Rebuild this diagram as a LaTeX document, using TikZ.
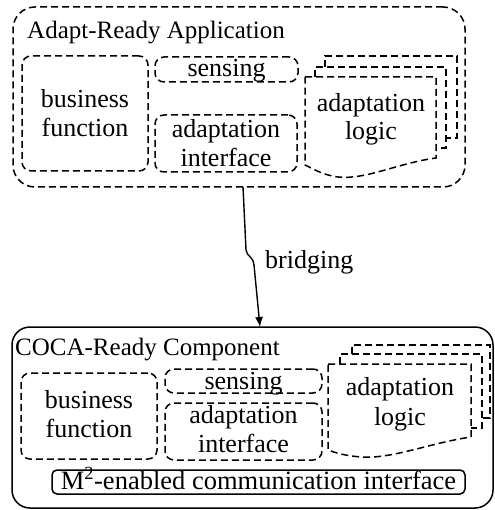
\documentclass[tikz,border=0pt]{standalone}
\usepackage{fontspec}
\setmainfont{Liberation Serif}
\usetikzlibrary{arrows.meta}
\begin{document}
\begin{tikzpicture}[x=1pt,y=-1pt,
  txt/.style={font=\fontsize{26}{28}\selectfont, inner sep=0pt, anchor=base},
  head/.style={font=\fontsize{25}{28}\selectfont, inner sep=0pt, anchor=base west},
  dsh/.style={dash pattern=on 7pt off 4pt, line width=1.5pt},
  part/.style={draw, dsh, rounded corners=9pt, inner sep=0pt, outer sep=0pt},
  frame/.style={draw, line width=1.5pt, inner sep=0pt, outer sep=0pt},
]
\useasboundingbox (0,0) rectangle (494,510);

% ---- adapt-ready application ----
\node[frame, dsh, rounded corners=22pt, minimum width=452pt, minimum height=180pt] (app) at (239,97) {};
\node[head] (appT) at (27,39) {Adapt-Ready Application};

\node[part, minimum width=126pt, minimum height=115pt] (bf1) at (85,113.5) {};
\node[part, minimum width=143pt, minimum height=25pt] (sn1) at (226.5,69.5) {};
\node[part, minimum width=142pt, minimum height=57pt] (ai1) at (226,143.5) {};

\node[txt] (bf1a) at (85,108) {business};
\node[txt] (bf1b) at (85,137) {function};
\node[txt] (sn1t) at (226.5,77) {sensing};
\node[txt] (ai1a) at (226,138) {adaptation};
\node[txt] (ai1b) at (226,167) {interface};

% stacked logic sheets
\draw[dsh] (325,67) -- (325,56) -- (457,56) -- (457,138) -- (446,138);
\draw[dsh] (315,77) -- (315,67) -- (446,67) -- (446,148) -- (436,148);
\draw[dsh] (305,77) -- (436,77) -- (436,158)
  .. controls (398,163) and (366,180) .. (338,177)
  .. controls (322,175) and (312,168) .. (305,165) -- cycle;
\node[txt] (al1a) at (371,112) {adaptation};
\node[txt] (al1b) at (371,140) {logic};

% ---- coca-ready component ----
\node[frame, rounded corners=18pt, minimum width=481pt, minimum height=181pt] (comp) at (252.5,417.5) {};
\node[head] (compT) at (15,355) {COCA-Ready Component};

\node[part, minimum width=136pt, minimum height=86pt] (bf2) at (89,416) {};
\node[part, minimum width=157pt, minimum height=24pt] (sn2) at (243.5,381) {};
\node[part, minimum width=157pt, minimum height=57pt] (ai2) at (243.5,431.5) {};

\node[txt] (bf2a) at (89,408) {business};
\node[txt] (bf2b) at (89,437) {function};
\node[txt] (sn2t) at (243.5,389) {sensing};
\node[txt] (ai2a) at (243.5,423) {adaptation};
\node[txt] (ai2b) at (243.5,452) {interface};

\draw[dsh] (352,354) -- (352,345) -- (490,345) -- (490,418) -- (482,418);
\draw[dsh] (340,364) -- (340,354) -- (482,354) -- (482,428) -- (471,428);
\draw[dsh] (328,364) -- (471,364) -- (471,437)
  .. controls (430,443) and (392,459) .. (362,457)
  .. controls (346,456) and (336,453) .. (328,450) -- cycle;
\node[txt] (al2a) at (400,395) {adaptation};
\node[txt] (al2b) at (400,425) {logic};

\node[frame, rounded corners=5pt, minimum width=413pt, minimum height=24pt] (m2) at (258.5,482) {};
\node[txt, font=\fontsize{26.5}{28}\selectfont] (m2t) at (258.5,489) {M\textsuperscript{2}-enabled communication interface};

% ---- bridging ----
\coordinate (bs) at ([xshift=4pt]app.south);
\coordinate (be) at ([xshift=7.5pt]comp.north);
\draw[line width=1.4pt, -{Latex[length=10pt,width=8pt]}] (bs) -- (246,250)
  .. controls (247,257) and (253,256) .. (254,265) -- (be);
\node[txt, anchor=base west] (brg) at (265,268) {bridging};
\end{tikzpicture}
\end{document}
